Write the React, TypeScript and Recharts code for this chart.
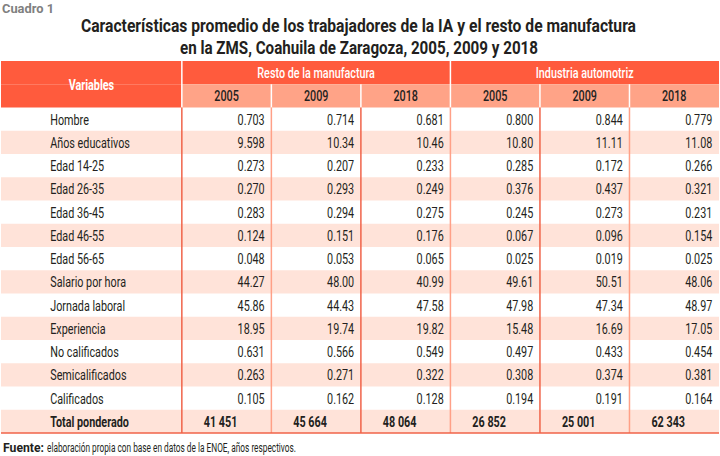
import { ComposedChart, XAxis, YAxis, Scatter, ReferenceArea, ReferenceLine } from "recharts";

const variables = [
  "Hombre",
  "Años educativos",
  "Edad 14-25",
  "Edad 26-35",
  "Edad 36-45",
  "Edad 46-55",
  "Edad 56-65",
  "Salario por hora",
  "Jornada laboral",
  "Experiencia",
  "No calificados",
  "Semicalificados",
  "Calificados",
];
const groups = ["Resto de la manufactura", "Industria automotriz"];
const years = ["2005", "2009", "2018", "2005", "2009", "2018"];

const resto2005 = [0.703, 9.598, 0.273, 0.27, 0.283, 0.124, 0.048, 44.27, 45.86, 18.95, 0.631, 0.263, 0.105];
const resto2009 = [0.714, 10.34, 0.207, 0.293, 0.294, 0.151, 0.053, 48.0, 44.43, 19.74, 0.566, 0.271, 0.162];
const resto2018 = [0.681, 10.46, 0.233, 0.249, 0.275, 0.176, 0.065, 40.99, 47.58, 19.82, 0.549, 0.322, 0.128];
const auto2005 = [0.8, 10.8, 0.285, 0.376, 0.245, 0.067, 0.025, 49.61, 47.98, 15.48, 0.497, 0.308, 0.194];
const auto2009 = [0.844, 11.11, 0.172, 0.437, 0.273, 0.096, 0.019, 50.51, 47.34, 16.69, 0.433, 0.374, 0.191];
const auto2018 = [0.779, 11.08, 0.266, 0.321, 0.231, 0.154, 0.025, 48.06, 48.97, 17.05, 0.454, 0.381, 0.164];
const totalPonderado = [41451, 45664, 48064, 26852, 25001, 62343];

const columns = [resto2005, resto2009, resto2018, auto2005, auto2009, auto2018];

// no condensed font in the sandbox, so Roboto squeezed horizontally
const FONT = "Roboto, 'Liberation Sans', sans-serif";
const SQUEEZE = 0.72;
const HEAD = "#ff5b3d";
const HEAD2 = "#ffa387";
const STRIPE = "#ffe3d9";
const RED = "#f06349";
const PINK = "#ffa087";
const INK = "#231f20";

const X0 = -2.02; // left edge of the "Variables" column
const TOTAL_ROW = variables.length;

const fmt = (v: number) => (v < 1 ? v.toFixed(3) : v.toPrecision(4));
const fmtTotal = (v: number) => String(v).replace(/\B(?=(\d{3})+(?!\d))/g, " ");

const cellPoints = columns.flatMap((col, c) =>
  col.map((v, r) => ({ x: c + 0.925, y: r + 0.5, text: fmt(v) }))
);
const labelPoints = [...variables, "Total ponderado"].map((name, r) => ({
  x: X0 + 0.55,
  y: r + 0.5,
  text: name,
  bold: r === TOTAL_ROW,
}));
const totalPoints = totalPonderado.map((v, c) => ({ x: c + 0.245, y: TOTAL_ROW + 0.5, text: fmtTotal(v), bold: true }));
const headPoints = [
  { x: X0 / 2, y: -1, text: "Variables", fill: "#fff", weight: 700 },
  ...groups.map((g, i) => ({ x: i * 3 + 1.5, y: -1.5, text: g, fill: "#fff", weight: 500 })),
  ...years.map((yr, c) => ({ x: c + 0.5, y: -0.5, text: yr, fill: INK, weight: 500 })),
];

const stripes = [...variables, "Total"].map((_, r) => r).filter((r) => r % 2 === 1);

const TextCell = (anchor: "start" | "end" | "middle", size = 15) => (props: any) => {
  const { cx, cy, payload } = props;
  return (
    <text
      transform={`translate(${cx},${cy}) scale(${SQUEEZE},1)`}
      x={0}
      y={0}
      dy="0.36em"
      textAnchor={anchor}
      fontFamily={FONT}
      fontSize={size}
      fontWeight={payload.weight ?? (payload.bold ? 700 : 400)}
      fill={payload.fill ?? INK}
    >
      {payload.text}
    </text>
  );
};

export default function App() {
  return (
    <div style={{ position: "absolute", left: 0, top: 0, width: 720, height: 456, background: "#fff" }}>
      <ComposedChart width={720} height={456} margin={{ top: 61, right: 1, bottom: 23, left: 1 }}>
        <XAxis type="number" dataKey="x" domain={[X0, 6]} hide allowDataOverflow />
        <YAxis type="number" dataKey="y" domain={[-2, 14]} reversed hide allowDataOverflow />

        {stripes.map((r) => (
          <ReferenceArea key={`s${r}`} x1={X0} x2={6} y1={r} y2={r + 1} fill={STRIPE} fillOpacity={1} />
        ))}
        <ReferenceArea x1={X0} x2={6} y1={-2} y2={-1} fill={HEAD} fillOpacity={1} />
        <ReferenceArea x1={X0} x2={0} y1={-1} y2={0} fill={HEAD} fillOpacity={1} />
        <ReferenceArea x1={0} x2={6} y1={-1} y2={0} fill={HEAD2} fillOpacity={1} />

        {years.map((_, c) => (
          <ReferenceLine
            key={`w${c}`}
            segment={[
              { x: c, y: c % 3 === 0 ? -2 : -1 },
              { x: c, y: 0 },
            ]}
            stroke="#fff"
            strokeWidth={1.5}
          />
        ))}
        {years.map((_, c) => (
          <ReferenceLine
            key={`v${c}`}
            segment={[
              { x: c, y: 0 },
              { x: c, y: 14 },
            ]}
            stroke={c % 2 === 0 ? RED : PINK}
            strokeWidth={1.5}
          />
        ))}
        <ReferenceLine
          segment={[
            { x: X0, y: 14 },
            { x: 6, y: 14 },
          ]}
          stroke={RED}
          strokeWidth={1.5}
        />

        <Scatter data={headPoints} shape={TextCell("middle", 15)} isAnimationActive={false} />
        <Scatter data={labelPoints} shape={TextCell("start")} isAnimationActive={false} />
        <Scatter data={cellPoints} shape={TextCell("end")} isAnimationActive={false} />
        <Scatter data={totalPoints} shape={TextCell("start")} isAnimationActive={false} />
      </ComposedChart>

      <svg width={720} height={456} style={{ position: "absolute", left: 0, top: 0, pointerEvents: "none" }}>
        <text
          x={2}
          y={13}
          textLength={52}
          lengthAdjust="spacingAndGlyphs"
          fontFamily={FONT}
          fontSize={13.5}
          fontWeight={700}
          fill="#808080"
        >
          Cuadro 1
        </text>
        <text
          x={81}
          y={32}
          textLength={555}
          lengthAdjust="spacingAndGlyphs"
          fontFamily={FONT}
          fontSize={17.5}
          fontWeight={700}
          fill={INK}
        >
          Características promedio de los trabajadores de la IA y el resto de manufactura
        </text>
        <text
          x={180}
          y={54}
          textLength={358}
          lengthAdjust="spacingAndGlyphs"
          fontFamily={FONT}
          fontSize={17.5}
          fontWeight={700}
          fill={INK}
        >
          en la ZMS, Coahuila de Zaragoza, 2005, 2009 y 2018
        </text>
        <text
          x={3}
          y={452}
          textLength={41}
          lengthAdjust="spacingAndGlyphs"
          fontFamily={FONT}
          fontSize={12}
          fontWeight={700}
          fill={INK}
        >
          Fuente:
        </text>
        <text
          x={47}
          y={452}
          textLength={249}
          lengthAdjust="spacingAndGlyphs"
          fontFamily={FONT}
          fontSize={12}
          fill={INK}
        >
          elaboración propia con base en datos de la ENOE, años respectivos.
        </text>
      </svg>
    </div>
  );
}
